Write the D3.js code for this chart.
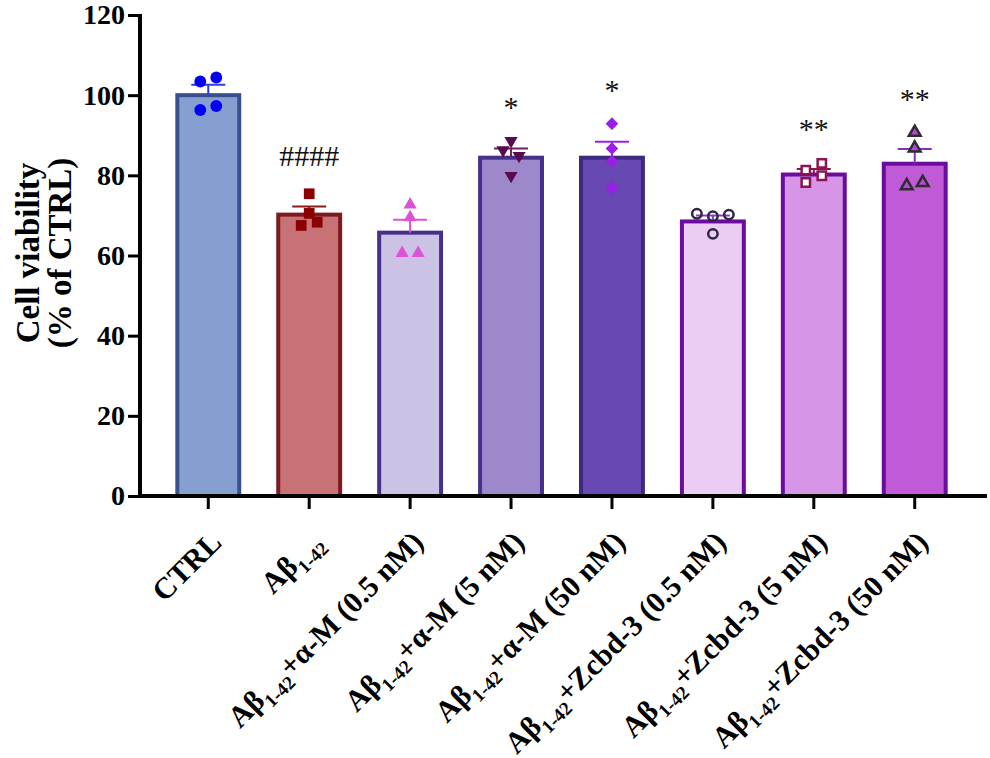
<!DOCTYPE html>
<html>
<head>
<meta charset="utf-8">
<script src="https://cdn.jsdelivr.net/npm/d3@7"></script>
<style>
  body { margin: 0; background: #fff; }
  svg text { font-family: "Liberation Serif", "Times New Roman", serif; }
</style>
</head>
<body>
<div id="chart"></div>
<script>
// group names, "|" switches between normal text and subscript
let categories = ["CTRL", "Aβ|1-42", "Aβ|1-42|+α-M (0.5 nM)", "Aβ|1-42|+α-M (5 nM)", "Aβ|1-42|+α-M (50 nM)",
	"Aβ|1-42|+Zcbd-3 (0.5 nM)", "Aβ|1-42|+Zcbd-3 (5 nM)", "Aβ|1-42|+Zcbd-3 (50 nM)"];

// bar heights (mean) and SEM
let means = [100, 70.2, 65.7, 84.4, 84.4, 68.5, 80.2, 82.9];
let sems = [2.6, 2.0, 3.2, 2.3, 4.0, 1.5, 1.4, 3.7];

// individual replicates
let replicates = [
	[103.4, 104.4, 96.3, 97.3],
	[75.4, 70.5, 67.5, 68.3],
	[72.7, 69.5, 60.6, 60.6],
	[88.6, 86.3, 84.9, 79.9],
	[92.9, 86.7, 83.5, 76.8],
	[70.4, 69.8, 70.2, 65.4],
	[78.2, 79.9, 81.3, 83.0],
	[90.7, 86.8, 77.4, 78.2]
];

// significance marks
let marks = ["", "####", "", "*", "*", "", "**", "**"];

let yTicks = [0, 20, 40, 60, 80, 100, 120];

// styling per group
let barFill = ["#859fd0", "#c87276", "#ccc2e6", "#9e88cc", "#6849b3", "#ebcdf3", "#d695e7", "#c15ad7"];
let barStroke = ["#3b4f8e", "#7b1a20", "#47308a", "#47308a", "#3d2a80", "#6b0c9f", "#6b0c9f", "#6b0c9f"];
let errColor = ["#2b3be0", "#8b1a1a", "#dc52d6", "#6a2060", "#9b1ee6", "#8a3ad0", "#8c1450", "#8a2ac8"];
let pointStyle = [
	{shape: d3.symbolCircle, size: 110, fill: "#0000f5", stroke: "none", rot: 0},
	{shape: d3.symbolSquare, size: 115, fill: "#8b0000", stroke: "none", rot: 0},
	{shape: d3.symbolTriangle, size: 75, fill: "#dc52d6", stroke: "none", rot: 0},
	{shape: d3.symbolTriangle, size: 75, fill: "#5c0a50", stroke: "none", rot: 180},
	{shape: d3.symbolSquare, size: 80, fill: "#9b1ee6", stroke: "none", rot: 45},
	{shape: d3.symbolCircle, size: 70, fill: "none", stroke: "#2e2745", rot: 0},
	{shape: d3.symbolSquare, size: 70, fill: "#fff", stroke: "#8c1450", rot: 0},
	{shape: d3.symbolTriangle, size: 60, fill: "#b44ad4", stroke: "#2d2d2d", rot: 0}
];

let W = 990, H = 758;

let svg = d3.select("#chart").append("svg")
	.attr("width", W)
	.attr("height", H);

let x = d3.scaleBand()
	.domain(d3.range(categories.length))
	.range([140, 983])
	.paddingInner(0.347)
	.paddingOuter(0.35);

let y = d3.scaleLinear()
	.domain([0, 120])
	.range([496, 15]);

// bars
svg.selectAll(".bar")
	.data(means)
	.enter()
	.append("rect")
	.attr("class", "bar")
	.attr("x", (d, i) => x(i) + 2)
	.attr("y", d => y(d))
	.attr("width", x.bandwidth() - 4)
	.attr("height", d => y(0) - y(d))
	.attr("fill", (d, i) => barFill[i])
	.attr("stroke", (d, i) => barStroke[i])
	.attr("stroke-width", 4);

// error bars (upper SEM only)
let err = svg.selectAll(".err")
	.data(means)
	.enter()
	.append("g")
	.attr("class", "err")
	.attr("stroke", (d, i) => errColor[i])
	.attr("stroke-width", 2);

err.append("line")
	.attr("x1", (d, i) => x(i) + x.bandwidth() / 2)
	.attr("x2", (d, i) => x(i) + x.bandwidth() / 2)
	.attr("y1", d => y(d))
	.attr("y2", (d, i) => y(d + sems[i]));

err.append("line")
	.attr("x1", (d, i) => x(i) + x.bandwidth() / 2 - 17)
	.attr("x2", (d, i) => x(i) + x.bandwidth() / 2 + 17)
	.attr("y1", (d, i) => y(d + sems[i]))
	.attr("y2", (d, i) => y(d + sems[i]));

// spread overlapping points sideways
function spread(vals) {
	let gap = 16, near = 7.5;
	let order = d3.range(vals.length).sort((a, b) => vals[b] - vals[a]);
	let offs = vals.map(() => 0);
	let groups = [];
	order.forEach((k, j) => {
		if (j > 0 && y(vals[k]) - y(vals[order[j - 1]]) < near) groups[groups.length - 1].push(k);
		else groups.push([k]);
	});
	groups.forEach(g => {
		if (g.length < 2) return;
		g.sort((a, b) => a - b);
		let span = d3.max(g, k => y(vals[k])) - d3.min(g, k => y(vals[k]));
		g.forEach((k, j) => {
			if (span < near) offs[k] = (j - (g.length - 1) / 2) * gap;
			else offs[k] = (j % 2 == 0 ? -1 : 1) * gap / 2;
		});
	});
	return offs;
}

replicates.forEach((vals, i) => {
	let st = pointStyle[i];
	let offs = spread(vals);
	let cx = x(i) + x.bandwidth() / 2;
	svg.append("g")
		.selectAll("path")
		.data(vals)
		.enter()
		.append("path")
		.attr("d", d3.symbol().type(st.shape).size(st.size))
		.attr("transform", (d, k) => "translate(" + (cx + offs[k]) + "," + y(d) + ")rotate(" + st.rot + ")")
		.attr("fill", st.fill)
		.attr("stroke", st.stroke)
		.attr("stroke-width", 2.5);

	// significance mark above highest point
	if (marks[i] != "") {
		let top = d3.max(vals.concat([means[i] + sems[i]]));
		svg.append("text")
			.attr("x", cx)
			.attr("y", y(top) - 38)
			.attr("dy", marks[i].indexOf("#") >= 0 ? "0.34em" : "0.47em")
			.attr("text-anchor", "middle")
			.attr("font-size", 30)
			.attr("fill", "#111")
			.text(marks[i]);
	}
});

// axes
let yAxis = d3.axisLeft(y)
	.tickValues(yTicks)
	.tickSize(12)
	.tickSizeOuter(0)
	.tickPadding(3);

let gy = svg.append("g")
	.attr("transform", "translate(140,0)")
	.call(yAxis);
gy.select(".domain").attr("stroke-width", 4).attr("d", "M0," + (y(120) - 1) + "V" + (y(0) + 2));
gy.selectAll(".tick line").attr("stroke-width", 3);
gy.selectAll(".tick text")
	.attr("font-family", "Liberation Serif")
	.attr("font-size", 28)
	.attr("font-weight", "bold")
	.attr("fill", "#000");

let xAxis = d3.axisBottom(x)
	.tickSize(13)
	.tickSizeOuter(0)
	.tickFormat("");

let gx = svg.append("g")
	.attr("transform", "translate(0," + y(0) + ")")
	.call(xAxis);
gx.select(".domain").attr("stroke-width", 4).attr("d", "M138,0H987");
gx.selectAll(".tick line").attr("stroke-width", 3);

// rotated category labels with subscripts
categories.forEach((c, i) => {
	let t = svg.append("text")
		.attr("text-anchor", "end")
		.attr("font-size", 30)
		.attr("font-weight", "bold")
		.attr("transform", "translate(" + (x(i) + x.bandwidth() / 2 + 15) + ",544)rotate(-45)");
	let parts = c.split("|");
	parts.forEach((p, k) => {
		let ts = t.append("tspan").text(p);
		if (k % 2 == 1) ts.attr("font-size", 19).attr("dy", 8);
		else if (k > 0) ts.attr("dy", -8);
	});
});

// y-axis title
let title = svg.append("text")
	.attr("transform", "translate(0,253)rotate(-90)")
	.attr("text-anchor", "middle")
	.attr("font-size", 33)
	.attr("font-weight", "bold");
title.append("tspan").attr("x", 0).attr("y", 39).text("Cell viability");
title.append("tspan").attr("x", 0).attr("y", 71).text("(% of CTRL)");
</script>
</body>
</html>
